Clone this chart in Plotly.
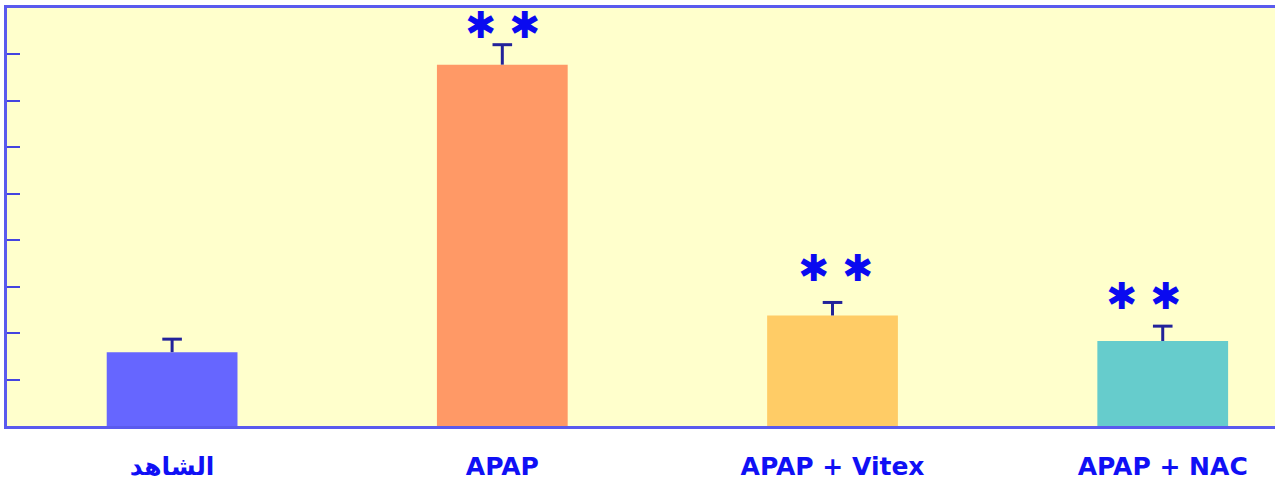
import plotly.graph_objects as go

# Groups, mean values and upper error for each group
groups = ["الشاهد", "APAP", "APAP + Vitex", "APAP + NAC"]
means = [1.59, 7.78, 2.38, 1.83]
errors = [0.28, 0.43, 0.28, 0.32]
bar_colors = ["#6666FF", "#FF9966", "#FFCC66", "#66CCCC"]

# Significance marks (group, label, height in data units)
sig_groups = ["APAP", "APAP + Vitex", "APAP + NAC"]
sig_labels = ["✱ ✱", "✱ ✱", "✱ ✱"]
sig_y = [8.61, 3.37, 2.77]
sig_dx = [0, 3, -19]

err_color = "#22229A"
tops = [m + e for m, e in zip(means, errors)]

fig = go.Figure()
fig.add_trace(go.Bar(
    x=groups,
    y=means,
    marker=dict(color=bar_colors, line=dict(width=0)),
    error_y=dict(type="data", symmetric=False, array=errors,
                 arrayminus=[0] * len(errors),
                 color=err_color, thickness=3, width=0),
    showlegend=False,
))
# Caps on the upper end of each error bar only (T shape)
fig.add_trace(go.Scatter(
    x=groups, y=tops, mode="markers",
    marker=dict(symbol="line-ew-open", size=14, color=err_color,
                line=dict(color=err_color, width=3)),
    showlegend=False, hoverinfo="skip",
))

for g, lab, yy, dx in zip(sig_groups, sig_labels, sig_y, sig_dx):
    fig.add_annotation(
        x=g, y=yy, xref="x", yref="y", text=lab, showarrow=False,
        xshift=dx, yshift=1,
        font=dict(family="DejaVu Sans", size=37, color="#0A0AF0", weight="bold"),
    )

fig.update_layout(
    width=1275, height=486,
    margin=dict(l=7, r=0, t=8, b=60),
    paper_bgcolor="white",
    plot_bgcolor="#FFFFCC",
    bargap=0.604,
    xaxis=dict(
        range=[-0.5, 3.34],
        showline=True, linecolor="#5a5aEE", linewidth=3, mirror=True,
        ticks="", showgrid=False, zeroline=False,
        tickfont=dict(family="DejaVu Sans", size=25, color="#1010F5", weight="bold"),
        ticklabelstandoff=16,
    ),
    yaxis=dict(
        range=[0, 9], dtick=1,
        showline=True, linecolor="#5a5aEE", linewidth=3,
        ticks="inside", ticklen=13, tickwidth=2, tickcolor="#4444E0",
        showticklabels=False, showgrid=False, zeroline=False,
    ),
)

fig.write_html("out.html")
